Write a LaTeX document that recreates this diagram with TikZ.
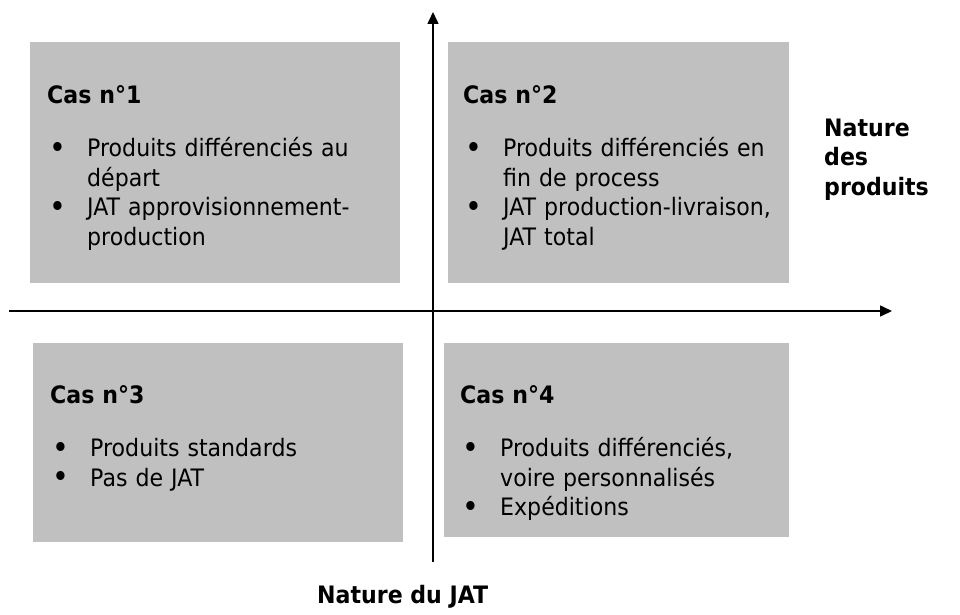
\documentclass[tikz,border=0pt]{standalone}
\usepackage{fontspec}
\setmainfont{DejaVu Sans}[FakeStretch=0.92]
\usepackage{tikz}
\usetikzlibrary{arrows.meta}
\definecolor{grisfond}{HTML}{C0C0C0}
\definecolor{noirx}{HTML}{000000}
\newcommand{\puce}{\makebox[40pt][l]{\hspace{2pt}\raisebox{-1.5pt}{\fontsize{31}{31}\selectfont\textbullet}}}
\newcommand{\retrait}{\hspace*{40pt}}
\tikzset{
  cadre/.style={fill=grisfond,anchor=north west,inner sep=0pt},
  txt/.style={anchor=base west,inner sep=0pt,text width=340pt,align=left,
    font=\fontsize{24}{29.5}\selectfont},
  titre/.style={anchor=base west,inner sep=0pt,align=left,
    font=\fontsize{24}{29.5}\selectfont\bfseries},
  axe/.style={-{Triangle[length=12pt,width=11pt]},line width=1.5pt,noirx}
}
\begin{document}
\begin{tikzpicture}[x=1pt,y=-1pt]
\useasboundingbox (0,0) rectangle (960,615);
% les quatre cas
\node[cadre,minimum width=370,minimum height=241] (c1) at (30,42) {};
\node[cadre,minimum width=341,minimum height=241] (c2) at (448,42) {};
\node[cadre,minimum width=370,minimum height=199] (c3) at (33,343) {};
\node[cadre,minimum width=345,minimum height=194] (c4) at (444,343) {};
\node[txt] (t1) at (47,103) {\textbf{Cas n°1}\\[24pt]
  \puce Produits différenciés au\\
  \retrait départ\\
  \puce JAT approvisionnement-\\
  \retrait production};
\node[txt] (t2) at (463,103) {\textbf{Cas n°2}\\[24pt]
  \puce\makebox[269pt][s]{Produits différenciés en}\\
  \retrait fin de process\\
  \puce\makebox[269pt][s]{JAT production-livraison,}\\
  \retrait JAT total};
\node[txt] (t3) at (50,403) {\textbf{Cas n°3}\\[24pt]
  \puce Produits standards\\
  \puce Pas de JAT};
\node[txt] (t4) at (460,403) {\textbf{Cas n°4}\\[24pt]
  \puce Produits différenciés,\\
  \retrait voire personnalisés\\
  \puce Expéditions};
% axes
\coordinate (xg) at (9,311);
\coordinate (xd) at (892,311);
\coordinate (yb) at (433,562);
\coordinate (yh) at (433,12);
\draw[axe] (xg) -- (xd);
\draw[axe] (yb) -- (yh);
\node[titre] (np) at (824,195) {Nature\\des\\produits};
\node[titre] (nj) at (317,603) {Nature du JAT};
\end{tikzpicture}
\end{document}
